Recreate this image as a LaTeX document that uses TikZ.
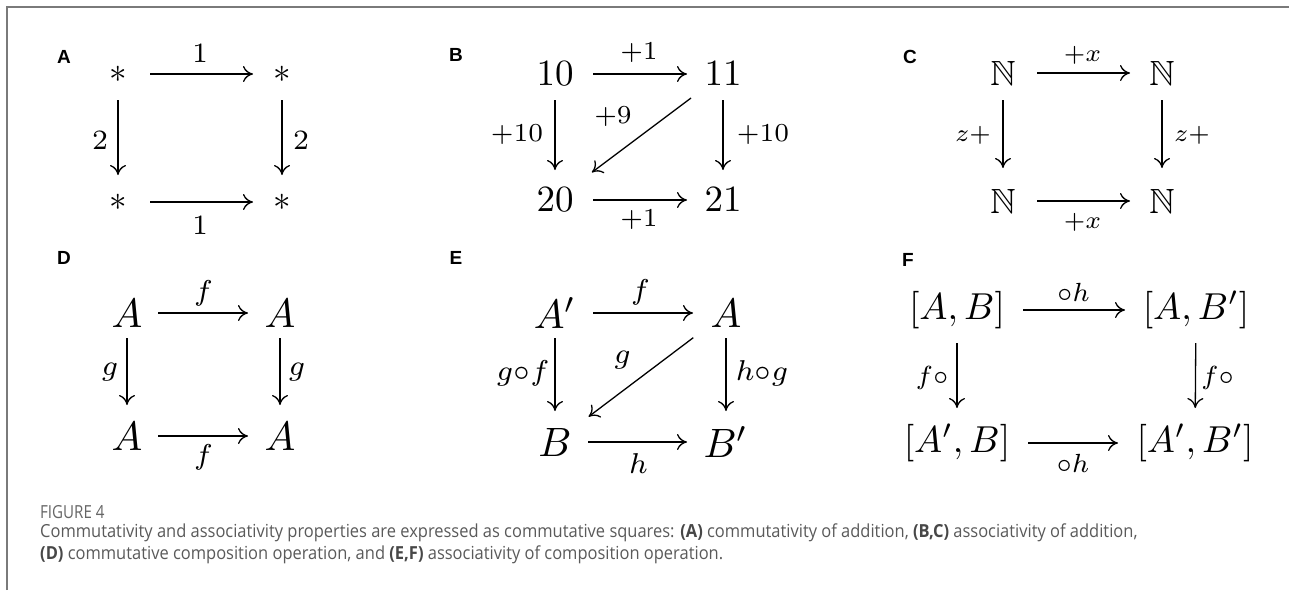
\documentclass[tikz,border=0pt]{standalone}
\usepackage{amssymb}
\usepackage{fontspec}
\newfontfamily\capfont{Open Sans}
\newfontfamily\panfont{Liberation Sans}
\usetikzlibrary{arrows.meta}
\definecolor{capgray}{HTML}{5A5A5A}
\definecolor{capbold}{HTML}{474747}
\definecolor{figgray}{HTML}{666666}
\definecolor{framegray}{HTML}{7A7A7A}
\begin{document}
\begin{tikzpicture}[x=1pt,y=-1pt,
  arr/.style={line width=1.3pt,-{Computer Modern Rightarrow[length=10pt,width=16pt]}},
  obj/.style={inner sep=0pt},
  lab/.style={inner sep=0pt},
  objA/.style={obj,scale=3.5}, labA/.style={lab,scale=4.0},
  objB/.style={obj,scale=3.7}, labB/.style={lab,scale=3.7},
  objC/.style={obj,scale=3.5}, labC/.style={lab,scale=3.5},
  objD/.style={obj,scale=4.1}, labD/.style={lab,scale=4.1},
  objE/.style={obj,scale=4.1}, labE/.style={lab,scale=4.1},
  objF/.style={obj,scale=3.75}, labF/.style={lab,scale=3.75},
  panlab/.style={inner sep=0pt,font=\panfont\bfseries\fontsize{19}{21}\selectfont}
]
\useasboundingbox (0,0) rectangle (1289,590);
\fill[white] (0,0) rectangle (1289,590);
\draw[framegray,line width=1.5pt] (7,590) -- (7,7) -- (1289,7);

% panel labels
\node[panlab] (lA) at (64,57) {A};
\node[panlab] (lB) at (456,55) {B};
\node[panlab] (lC) at (910,57) {C};
\node[panlab] (lD) at (64,258) {D};
\node[panlab] (lE) at (456,258) {E};
\node[panlab] (lF) at (908,260) {F};

% Panel A
\node[objA] (a1) at (118,74) {$*$};
\node[objA] (a2) at (282,74) {$*$};
\node[objA] (a3) at (118,202) {$*$};
\node[objA] (a4) at (282,202) {$*$};
\draw[arr,shorten <=32pt,shorten >=29pt] (a1.center) -- node[yshift=21pt,labA]{$\scriptstyle 1$} (a2.center);
\draw[arr,shorten <=32pt,shorten >=29pt] (a3.center) -- node[yshift=-23pt,labA]{$\scriptstyle 1$} (a4.center);
\draw[arr,shorten <=26pt,shorten >=27pt] (a1.center) -- node[xshift=-18pt,yshift=-2pt,labA]{$\scriptstyle 2$} (a3.center);
\draw[arr,shorten <=26pt,shorten >=27pt] (a2.center) -- node[xshift=19pt,yshift=-2pt,labA]{$\scriptstyle 2$} (a4.center);

% Panel B
\node[objB] (b1) at (555,74) {$10$};
\node[objB] (b2) at (723,74) {$11$};
\node[objB] (b3) at (555,200) {$20$};
\node[objB] (b4) at (723,200) {$21$};
\draw[arr,shorten <=38pt,shorten >=36pt] (b1.center) -- node[yshift=21pt,labB]{$\scriptstyle +1$} (b2.center);
\draw[arr,shorten <=38pt,shorten >=36pt] (b3.center) -- node[yshift=-20pt,labB]{$\scriptstyle +1$} (b4.center);
\draw[arr,shorten <=26pt,shorten >=30pt] (b1.center) -- node[xshift=-38pt,yshift=2pt,labB]{$\scriptstyle +10$} (b3.center);
\draw[arr,shorten <=26pt,shorten >=30pt] (b2.center) -- node[xshift=40pt,yshift=2pt,labB]{$\scriptstyle +10$} (b4.center);
\draw[arr,shorten <=40pt,shorten >=46pt] (b2.center) -- node[xshift=-26pt,yshift=20pt,labB]{$\scriptstyle +9$} (b3.center);

% Panel C
\node[objC] (c1) at (1003,73) {$\mathbb{N}$};
\node[objC] (c2) at (1162,73) {$\mathbb{N}$};
\node[objC] (c3) at (1003,201) {$\mathbb{N}$};
\node[objC] (c4) at (1162,201) {$\mathbb{N}$};
\draw[arr,shorten <=34pt,shorten >=32pt] (c1.center) -- node[yshift=18pt,labC]{$\scriptstyle +x$} (c2.center);
\draw[arr,shorten <=34pt,shorten >=32pt] (c3.center) -- node[yshift=-21pt,labC]{$\scriptstyle +x$} (c4.center);
\draw[arr,shorten <=27pt,shorten >=33pt] (c1.center) -- node[xshift=-30pt,yshift=2pt,labC]{$\scriptstyle z+$} (c3.center);
\draw[arr,shorten <=27pt,shorten >=33pt] (c2.center) -- node[xshift=30pt,yshift=2pt,labC]{$\scriptstyle z+$} (c4.center);

% Panel D
\node[objD] (d1) at (127,313) {$A$};
\node[objD] (d2) at (280,313) {$A$};
\node[objD] (d3) at (127,436) {$A$};
\node[objD] (d4) at (280,436) {$A$};
\draw[arr,shorten <=31pt,shorten >=32pt] (d1.center) -- node[yshift=20pt,labD]{$\scriptstyle f$} (d2.center);
\draw[arr,shorten <=31pt,shorten >=32pt] (d3.center) -- node[yshift=-21pt,labD]{$\scriptstyle f$} (d4.center);
\draw[arr,shorten <=25pt,shorten >=31pt] (d1.center) -- node[xshift=-17pt,yshift=2pt,labD]{$\scriptstyle g$} (d3.center);
\draw[arr,shorten <=25pt,shorten >=31pt] (d2.center) -- node[xshift=17pt,yshift=2pt,labD]{$\scriptstyle g$} (d4.center);

% Panel E
\node[objE] (e1) at (555,313) {$A'$};
\node[objE] (e2) at (726,313) {$A$};
\node[objE] (e3) at (555,442) {$B$};
\node[objE] (e4) at (726,442) {$B'$};
\draw[arr,shorten <=38pt,shorten >=33pt] (e1.center) -- node[yshift=21pt,labE]{$\scriptstyle f$} (e2.center);
\draw[arr,shorten <=33pt,shorten >=39pt] (e3.center) -- node[xshift=-2pt,yshift=-22pt,labE]{$\scriptstyle h$} (e4.center);
\draw[arr,shorten <=25pt,shorten >=31pt] (e1.center) -- node[xshift=-32pt,yshift=4pt,labE]{$\scriptstyle g\circ f$} (e3.center);
\draw[arr,shorten <=25pt,shorten >=31pt] (e2.center) -- node[xshift=36pt,yshift=4pt,labE]{$\scriptstyle h\circ g$} (e4.center);
\draw[arr,shorten <=41pt,shorten >=42pt] (e2.center) -- node[xshift=-18pt,yshift=17pt,labE]{$\scriptstyle g$} (e3.center);

% Panel F
\node[objF] (f1) at (957,310) {$[A,B]$};
\node[objF] (f2) at (1196,310) {$[A,B']$};
\node[objF] (f3) at (957,443) {$[A',B]$};
\node[objF] (f4) at (1195,443) {$[A',B']$};
\draw[arr,shorten <=66pt,shorten >=71pt] (f1.center) -- node[xshift=-3pt,yshift=18pt,labF]{$\scriptstyle \circ h$} (f2.center);
\draw[arr,shorten <=71pt,shorten >=77pt] (f3.center) -- node[xshift=-3pt,yshift=-20pt,labF]{$\scriptstyle \circ h$} (f4.center);
\draw[arr,shorten <=33pt,shorten >=35pt] (f1.center) -- node[xshift=-25pt,yshift=-1pt,labF]{$\scriptstyle f\circ$} (f3.center);
\draw[arr,shorten <=33pt,shorten >=35pt] (f2.center) -- node[xshift=22pt,yshift=-1pt,labF]{$\scriptstyle f\circ$} (f4.center);

% Caption
\node[anchor=west,inner sep=0pt,text=figgray,font=\capfont\fontsize{18}{20}\selectfont,xscale=0.84] (fig) at (40,512) {FIGURE 4};
\node[anchor=north west,inner sep=0pt,align=left,text=capgray,font=\capfont\fontsize{18}{22}\selectfont,xscale=0.915] (cap) at (40,524)
{Commutativity and associativity properties are expressed as commutative squares: {\color{capbold}\bfseries(A)} commutativity of addition, {\color{capbold}\bfseries(B,C)} associativity of addition,\\
{\color{capbold}\bfseries(D)} commutative composition operation, and {\color{capbold}\bfseries(E,F)} associativity of composition operation.};
\end{tikzpicture}
\end{document}
